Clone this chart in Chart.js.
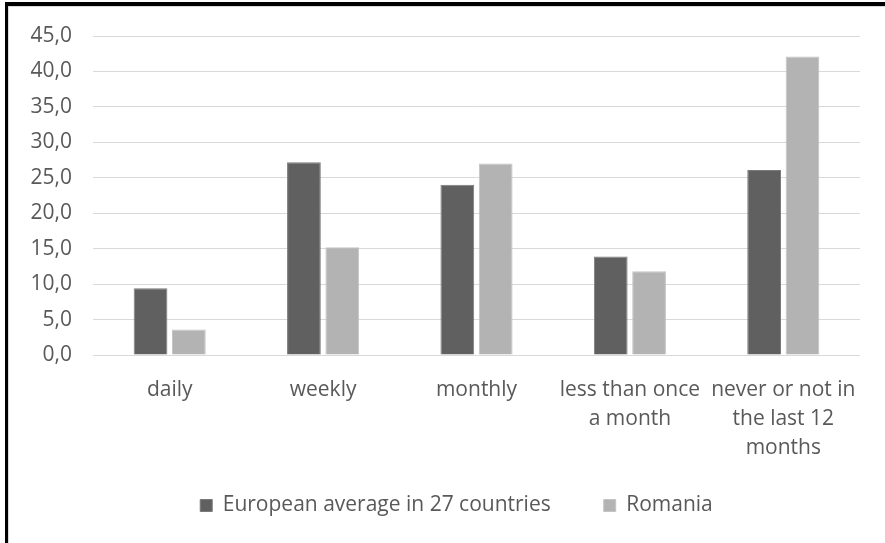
<!DOCTYPE html>
<html>
<head>
<meta charset="utf-8">
<script src="https://cdn.jsdelivr.net/npm/chart.js@4"></script>
<style>
    html, body { margin: 0; padding: 0; background: #fff; }
    .frame {
        position: absolute;
        left: 5px;
        top: 2px;
        width: 880px;
        height: 541px;
        border-top: 4px solid #000;
        border-left: 3px solid #000;
        box-sizing: border-box;
    }
    .inner {
        position: absolute;
        left: 0; top: 0; right: 0; bottom: 0;
        border-top: 1px solid #d9d9d9;
        border-left: 1px solid #d9d9d9;
    }
    .inner canvas { display: block; }
</style>
</head>
<body>
<div class="frame">
    <div class="inner">
        <canvas id="frequencyChart"></canvas>
    </div>
</div>
<script>
// Frequency categories and values per series
const categories = ['daily', 'weekly', 'monthly', ['less than once', 'a month'], ['never or not in', 'the last 12', 'months']];
const europeValues = [9.4, 27.2, 24.0, 13.9, 26.1];
const romaniaValues = [3.6, 15.2, 27.0, 11.8, 42.1];
const yTicks = [0, 5, 10, 15, 20, 25, 30, 35, 40, 45];

const textColor = '#595959';
const fontFamily = '"Open Sans", sans-serif';

// nudge the legend row after layout (right and up)
const legendOffset = {
    id: 'legendOffset',
    afterLayout(chart) {
        const lg = chart.legend;
        lg.left += 22;
        lg.right += 22;
        lg.top -= 13;
        lg.bottom -= 13;
    }
};

const ctx = document.getElementById('frequencyChart').getContext('2d');
new Chart(ctx, {
    type: 'bar',
    data: {
        labels: categories,
        datasets: [{
            label: 'European average in 27 countries',
            data: europeValues,
            backgroundColor: '#606060',
            borderColor: '#7a7a7a',
            borderWidth: 1,
            barPercentage: 0.88,
            categoryPercentage: 0.5
        }, {
            label: 'Romania',
            data: romaniaValues,
            backgroundColor: '#b3b3b3',
            borderColor: '#c4c4c4',
            borderWidth: 1,
            barPercentage: 0.88,
            categoryPercentage: 0.5
        }]
    },
    options: {
        responsive: true,
        maintainAspectRatio: false,
        animation: false,
        layout: {
            padding: { top: 29, right: 25, bottom: 4, left: 0 }
        },
        plugins: {
            legend: {
                position: 'bottom',
                labels: {
                    color: textColor,
                    font: { family: fontFamily, size: 21 },
                    boxWidth: 12,
                    boxHeight: 12,
                    padding: 53
                }
            },
            tooltip: { enabled: false }
        },
        scales: {
            x: {
                grid: { display: false },
                border: { display: false },
                ticks: {
                    color: textColor,
                    font: { family: fontFamily, size: 21, lineHeight: 1.4 },
                    maxRotation: 0,
                    autoSkip: false,
                    padding: 12
                },
                afterFit: scale => { scale.height = 100; }
            },
            y: {
                min: 0,
                max: 45,
                afterBuildTicks: scale => { scale.ticks = yTicks.map(v => ({ value: v })); },
                grid: { color: '#d9d9d9', lineWidth: 1, drawTicks: false },
                border: { display: false },
                ticks: {
                    color: textColor,
                    font: { family: fontFamily, size: 21 },
                    padding: 21,
                    callback: value => value.toFixed(1).replace('.', ',')
                },
                afterFit: scale => {
                    scale.width = 84;
                    scale.paddingTop = 0;
                    scale.paddingBottom = 0;
                }
            }
        }
    },
    plugins: [legendOffset]
});
</script>
</body>
</html>
